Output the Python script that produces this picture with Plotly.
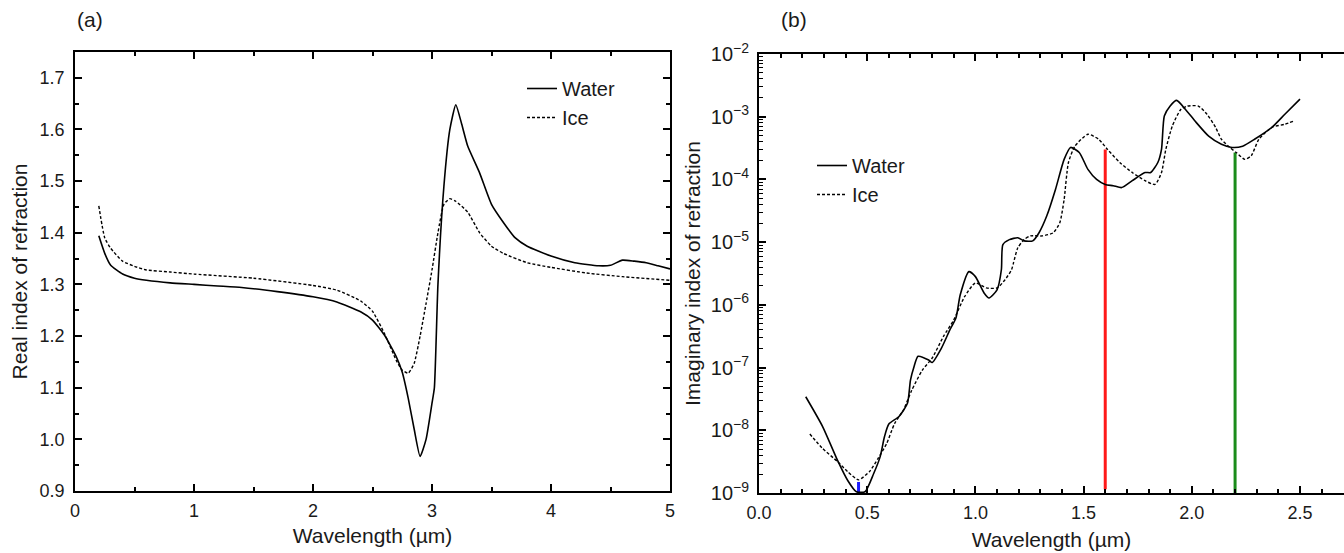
import plotly.graph_objects as go

# ---------------- Panel (a): real index ----------------
wl_water_a = [0.2, 0.25, 0.3, 0.4, 0.5, 0.6, 0.8, 1.0, 1.2, 1.4, 1.7, 2.0, 2.2, 2.4, 2.5, 2.6, 2.7,
              2.75, 2.8, 2.85, 2.9, 2.95, 3.0, 3.02, 3.05, 3.1, 3.15, 3.2, 3.25, 3.3, 3.4, 3.5, 3.6,
              3.7, 3.8, 4.0, 4.2, 4.4, 4.5, 4.6, 4.7, 4.8, 4.9, 5.0]
n_water = [1.394, 1.36, 1.337, 1.32, 1.312, 1.308, 1.303, 1.300, 1.297, 1.294, 1.286, 1.276, 1.266,
           1.247, 1.231, 1.202, 1.16, 1.13, 1.08, 1.02, 0.967, 1.0, 1.07, 1.10, 1.30, 1.49, 1.60,
           1.648, 1.61, 1.568, 1.516, 1.455, 1.42, 1.39, 1.374, 1.355, 1.342, 1.336, 1.337, 1.347,
           1.345, 1.342, 1.336, 1.33]

wl_ice_a = [0.2, 0.25, 0.3, 0.4, 0.5, 0.6, 0.8, 1.0, 1.5, 2.0, 2.2, 2.4, 2.5, 2.6, 2.7, 2.75, 2.8,
            2.85, 2.9, 2.95, 3.0, 3.05, 3.1, 3.15, 3.2, 3.3, 3.4, 3.5, 3.6, 3.8, 4.0, 4.3, 4.6, 5.0]
n_ice = [1.452, 1.39, 1.37, 1.345, 1.335, 1.328, 1.324, 1.32, 1.312, 1.298, 1.289, 1.268, 1.248,
         1.205, 1.153, 1.134, 1.128, 1.147, 1.20, 1.263, 1.328, 1.40, 1.455, 1.466, 1.461, 1.44,
         1.40, 1.374, 1.36, 1.342, 1.333, 1.322, 1.315, 1.308]

# ---------------- Panel (b): imaginary index ----------------
wl_water_b = [0.216, 0.294, 0.363, 0.41, 0.45, 0.49, 0.53, 0.56, 0.58, 0.60, 0.647, 0.686, 0.70,
              0.716, 0.735, 0.784, 0.80, 0.843, 0.882, 0.91, 0.93, 0.97, 1.0, 1.04, 1.063, 1.10,
              1.12, 1.127, 1.157, 1.196, 1.225, 1.265, 1.294, 1.33, 1.37, 1.41, 1.44, 1.48, 1.52,
              1.56, 1.60, 1.637, 1.676, 1.725, 1.784, 1.81, 1.843, 1.86, 1.873, 1.90, 1.93, 1.97,
              2.02, 2.078, 2.137, 2.186, 2.235, 2.29, 2.37, 2.43, 2.5]
k_water_log = [-7.465, -7.94, -8.48, -8.80, -8.98, -8.98, -8.69, -8.42, -8.10, -7.90, -7.78, -7.57,
               -7.20, -6.99, -6.82, -6.88, -6.92, -6.69, -6.40, -6.21, -5.84, -5.47, -5.55, -5.81,
               -5.89, -5.76, -5.44, -5.04, -4.96, -4.93, -4.98, -4.98, -4.85, -4.58, -4.16, -3.68,
               -3.49, -3.57, -3.84, -4.00, -4.08, -4.10, -4.13, -4.02, -3.89, -3.89, -3.73, -3.52,
               -2.99, -2.83, -2.74, -2.88, -3.09, -3.31, -3.44, -3.49, -3.47, -3.36, -3.17, -2.96,
               -2.72]
k_water = [10 ** v for v in k_water_log]

wl_ice_b = [0.235, 0.294, 0.363, 0.41, 0.46, 0.51, 0.55, 0.59, 0.627, 0.667, 0.706, 0.755, 0.80,
            0.853, 0.90, 0.95, 1.0, 1.05, 1.10, 1.137, 1.167, 1.176, 1.196, 1.225, 1.255, 1.31,
            1.36, 1.39, 1.41, 1.43, 1.46, 1.52, 1.57, 1.61, 1.667, 1.725, 1.784, 1.83, 1.86, 1.88,
            1.91, 1.95, 1.98, 2.03, 2.07, 2.11, 2.137, 2.176, 2.205, 2.245, 2.275, 2.31, 2.37,
            2.43, 2.47]
k_ice_log = [-8.06, -8.29, -8.50, -8.66, -8.79, -8.66, -8.45, -8.21, -7.89, -7.68, -7.36, -7.04,
             -6.85, -6.50, -6.24, -5.87, -5.65, -5.73, -5.73, -5.60, -5.44, -5.33, -5.09, -4.96,
             -4.90, -4.90, -4.85, -4.69, -4.32, -3.73, -3.47, -3.28, -3.36, -3.52, -3.73, -3.89,
             -4.02, -4.08, -3.89, -3.52, -3.15, -2.88, -2.83, -2.83, -2.96, -3.17, -3.36, -3.49,
             -3.57, -3.68, -3.62, -3.36, -3.17, -3.12, -3.07]
k_ice = [10 ** v for v in k_ice_log]

# marker lines (wavelength, bottom, top, colour)
band_wl = [0.46, 1.6, 2.2]
band_bottom = [1.0e-9, 1.15e-9, 1.0e-9]
band_top = [1.5e-9, 3.0e-4, 2.7e-4]
band_color = ["#1a1aff", "#ff1a1a", "#1a8c1a"]

FONT = "Liberation Sans, Arial, sans-serif"
W, H = 1344, 553

fig = go.Figure()

fig.add_trace(go.Scatter(x=wl_water_a, y=n_water, mode="lines", name="Water",
                         line=dict(color="black", width=1.6, dash="solid", shape="spline", smoothing=0.5),
                         xaxis="x", yaxis="y", legend="legend"))
fig.add_trace(go.Scatter(x=wl_ice_a, y=n_ice, mode="lines", name="Ice",
                         line=dict(color="black", width=1.4, dash="3px,2px", shape="spline", smoothing=0.5),
                         xaxis="x", yaxis="y", legend="legend"))

for wl, b, t, c in zip(band_wl, band_bottom, band_top, band_color):
    fig.add_trace(go.Scatter(x=[wl, wl], y=[b, t], mode="lines", showlegend=False,
                             line=dict(color=c, width=3), xaxis="x2", yaxis="y2"))

fig.add_trace(go.Scatter(x=wl_water_b, y=k_water, mode="lines", name="Water",
                         line=dict(color="black", width=1.6, dash="solid", shape="spline", smoothing=0.6),
                         xaxis="x2", yaxis="y2", legend="legend2"))
fig.add_trace(go.Scatter(x=wl_ice_b, y=k_ice, mode="lines", name="Ice",
                         line=dict(color="black", width=1.4, dash="3px,2px", shape="spline", smoothing=0.6),
                         xaxis="x2", yaxis="y2", legend="legend2"))

tickfont = dict(family=FONT, size=18, color="#1a1a1a")
logtickfont = dict(family=FONT, size=16, color="#1a1a1a")
titlefont = dict(family=FONT, size=21, color="#1a1a1a")
legfont = dict(family=FONT, size=20, color="#1a1a1a")

common = dict(showline=True, linecolor="black", linewidth=1.5, ticks="inside", ticklen=7,
              tickwidth=1.5, tickcolor="black", showgrid=False, zeroline=False,
              automargin=False)

fig.update_layout(
    width=W, height=H,
    margin=dict(l=0, r=0, t=0, b=0),
    paper_bgcolor="white", plot_bgcolor="white",
    font=dict(family=FONT, size=18, color="#1a1a1a"),
    xaxis=dict(domain=[75 / W, 670 / W], range=[0, 5], tick0=0, dtick=1, mirror="allticks",
               anchor="y", ticklabelstandoff=3, tickfont=tickfont,
               title=dict(text="Wavelength (µm)", font=titlefont, standoff=8),
               minor=dict(dtick=0.5, ticks="inside", ticklen=4, tickwidth=1.5, tickcolor="black"),
               **common),
    yaxis=dict(domain=[(H - 491) / H, (H - 52) / H], range=[0.9, 1.75], tick0=0.9, dtick=0.1,
               tickformat=".1f", mirror="allticks", anchor="x", ticklabelstandoff=5,
               tickfont=tickfont,
               title=dict(text="Real index of refraction", font=titlefont, standoff=6),
               minor=dict(dtick=0.05, ticks="inside", ticklen=4, tickwidth=1.5, tickcolor="black"),
               **common),
    xaxis2=dict(domain=[759 / W, 1.0], range=[0, (W - 759) / 216.4], tick0=0, dtick=0.5,
                tickformat=".1f", mirror="allticks", anchor="y2", ticklabelstandoff=3,
                tickfont=tickfont,
                title=dict(text="Wavelength (µm)", font=titlefont, standoff=10),
                minor=dict(dtick=0.1, ticks="inside", ticklen=4, tickwidth=1.5, tickcolor="black"),
                **common),
    yaxis2=dict(domain=[(H - 493) / H, (H - 54) / H], type="log", range=[-9, -2], dtick=1,
                exponentformat="power", mirror=False, anchor="x2", ticklabelstandoff=5,
                tickfont=logtickfont,
                title=dict(text="Imaginary index of refraction", font=titlefont, standoff=4),
                minor=dict(dtick="D1", ticks="inside", ticklen=4, tickwidth=1.2, tickcolor="black"),
                **common),
    legend=dict(x=522 / W, y=(H - 69) / H, xanchor="left", yanchor="top",
                bgcolor="rgba(0,0,0,0)", font=legfont, tracegroupgap=0, itemwidth=30),
    legend2=dict(x=812 / W, y=(H - 146) / H, xanchor="left", yanchor="top",
                 bgcolor="rgba(0,0,0,0)", font=legfont, tracegroupgap=0, itemwidth=30),
    annotations=[
        dict(text="(a)", x=90 / W, y=(H - 19) / H, xref="paper", yref="paper",
             xanchor="center", yanchor="middle",
             showarrow=False, font=dict(family=FONT, size=21, color="#1a1a1a")),
        dict(text="(b)", x=794 / W, y=(H - 19) / H, xref="paper", yref="paper",
             xanchor="center", yanchor="middle",
             showarrow=False, font=dict(family=FONT, size=21, color="#1a1a1a")),
    ],
)

fig.write_html("out.html")
